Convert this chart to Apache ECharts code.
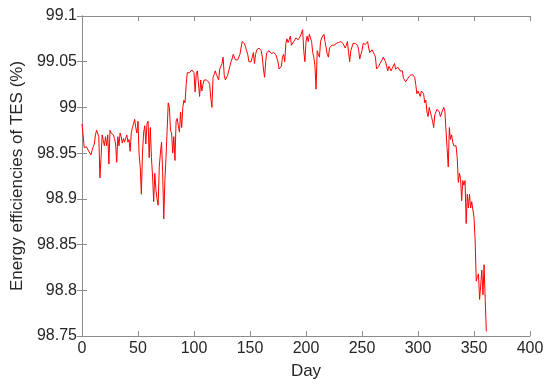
<!DOCTYPE html>
<html>
<head>
<meta charset="utf-8">
<script src="https://cdn.jsdelivr.net/npm/echarts@6/dist/echarts.min.js"></script>
<style>
  html, body { margin: 0; padding: 0; background: #fff; }
  #main { width: 550px; height: 385px; }
</style>
</head>
<body>
<div id="main"></div>
<script>
// day index 0..361, energy efficiency (%)
const efficiency = [
  98.982, 98.970, 98.956, 98.958, 98.957, 98.955, 98.952, 98.950, 98.948, 98.953,
  98.957, 98.960, 98.970, 98.975, 98.974, 98.968, 98.923, 98.945, 98.970, 98.964,
  98.958, 98.968, 98.958, 98.970, 98.938, 98.975, 98.972, 98.973, 98.970, 98.966,
  98.960, 98.940, 98.968, 98.958, 98.972, 98.968, 98.961, 98.966, 98.962, 98.960,
  98.970, 98.962, 98.965, 98.952, 98.972, 98.978, 98.982, 98.987, 98.978, 98.972,
  98.985, 98.948, 98.935, 98.905, 98.950, 98.972, 98.980, 98.960, 98.982, 98.985,
  98.945, 98.978, 98.945, 98.925, 98.897, 98.928, 98.910, 98.900, 98.893, 98.935,
  98.950, 98.962, 98.930, 98.878, 98.920, 98.945, 98.975, 99.005, 99.000, 98.975,
  98.972, 98.950, 98.968, 98.942, 98.985, 98.988, 98.980, 98.973, 98.995, 98.978,
  99.000, 99.008, 99.005, 99.025, 99.038, 99.040, 99.038, 99.040, 99.041, 99.042,
  99.038, 99.017, 99.036, 99.040, 99.042, 99.012, 99.030, 99.018, 99.025, 99.030,
  99.032, 99.030, 99.029, 99.028, 99.025, 99.010, 99.000, 99.033, 99.036, 99.040,
  99.036, 99.038, 99.030, 99.042, 99.045, 99.048, 99.055, 99.035, 99.030, 99.028,
  99.035, 99.040, 99.045, 99.050, 99.053, 99.058, 99.060, 99.052, 99.050, 99.052,
  99.053, 99.058, 99.065, 99.072, 99.070, 99.070, 99.066, 99.062, 99.058, 99.050,
  99.048, 99.050, 99.055, 99.060, 99.048, 99.058, 99.063, 99.064, 99.065, 99.063,
  99.062, 99.055, 99.042, 99.033, 99.050, 99.060, 99.061, 99.062, 99.060, 99.059,
  99.058, 99.060, 99.060, 99.058, 99.057, 99.050, 99.042, 99.043, 99.045, 99.055,
  99.058, 99.050, 99.070, 99.075, 99.071, 99.074, 99.078, 99.068, 99.070, 99.072,
  99.074, 99.076, 99.075, 99.074, 99.075, 99.078, 99.080, 99.085, 99.062, 99.050,
  99.072, 99.078, 99.072, 99.080, 99.076, 99.072, 99.060, 99.055, 99.045, 99.020,
  99.062, 99.058, 99.055, 99.072, 99.076, 99.078, 99.080, 99.072, 99.065, 99.058,
  99.055, 99.065, 99.066, 99.068, 99.067, 99.068, 99.068, 99.070, 99.069, 99.071,
  99.073, 99.072, 99.071, 99.070, 99.070, 99.065, 99.068, 99.072, 99.060, 99.050,
  99.062, 99.066, 99.070, 99.068, 99.070, 99.072, 99.068, 99.063, 99.053, 99.058,
  99.062, 99.070, 99.068, 99.069, 99.068, 99.072, 99.065, 99.060, 99.062, 99.063,
  99.062, 99.058, 99.055, 99.042, 99.044, 99.045, 99.048, 99.050, 99.052, 99.055,
  99.056, 99.050, 99.045, 99.040, 99.045, 99.043, 99.040, 99.043, 99.045, 99.048,
  99.042, 99.044, 99.044, 99.042, 99.040, 99.041, 99.040, 99.032, 99.030, 99.028,
  99.029, 99.032, 99.033, 99.035, 99.036, 99.036, 99.035, 99.033, 99.025, 99.015,
  99.018, 99.020, 99.012, 99.018, 99.020, 99.015, 99.005, 99.008, 98.995, 98.990,
  99.000, 98.995, 98.990, 98.985, 98.978, 98.992, 98.995, 98.998, 99.000, 98.995,
  98.990, 98.992, 98.997, 99.000, 98.996, 98.975, 98.955, 98.935, 98.978, 98.965,
  98.970, 98.962, 98.958, 98.960, 98.958, 98.945, 98.918, 98.928, 98.922, 98.898,
  98.920, 98.915, 98.920, 98.873, 98.905, 98.890, 98.905, 98.890, 98.897, 98.888,
  98.880, 98.855, 98.810, 98.815, 98.818, 98.790, 98.788, 98.822, 98.795, 98.828,
  98.790, 98.755
];
const days = efficiency.map((v, i) => i);

const xTicks = { min: 0, max: 400, interval: 50 };
const yTicks = { min: 98.75, max: 99.1, interval: 0.05 };

const axisColor = "#8c8c8c";
const labelColor = "#262626";
const font = "Liberation Sans, Arial, sans-serif";

const myChart = echarts.init(document.getElementById("main"));

const frameAxis = {
  axisLine: { show: true, lineStyle: { color: axisColor, width: 1 } },
  axisTick: { show: true, inside: true, length: 5, lineStyle: { color: axisColor } },
  splitLine: { show: false }
};

const option = {
  animation: false,
  grid: { left: 82, right: 20, top: 16, bottom: 32, containLabel: false },
  xAxis: [
    {
      type: "value",
      ...xTicks,
      ...frameAxis,
      position: "bottom",
      name: "Day",
      nameLocation: "middle",
      nameGap: 27,
      nameTextStyle: { color: labelColor, fontSize: 17, fontFamily: font },
      axisLabel: { color: labelColor, fontSize: 16, fontFamily: font, margin: 5 }
    },
    {
      type: "value",
      ...xTicks,
      ...frameAxis,
      position: "top",
      axisLabel: { show: false }
    }
  ],
  yAxis: [
    {
      type: "value",
      ...yTicks,
      ...frameAxis,
      position: "left",
      name: "Energy efficiencies of TES (%)",
      nameLocation: "middle",
      nameGap: 51,
      nameTextStyle: { color: labelColor, fontSize: 17, fontFamily: font },
      axisLabel: {
        color: labelColor,
        fontSize: 16,
        fontFamily: font,
        margin: 5,
        formatter: function(v) {
          return String(parseFloat(v.toFixed(2)));
        }
      }
    },
    {
      type: "value",
      ...yTicks,
      ...frameAxis,
      position: "right",
      axisLabel: { show: false }
    }
  ],
  series: [
    {
      type: "line",
      data: days.map((d, i) => [d, efficiency[i]]),
      showSymbol: false,
      symbol: "none",
      lineStyle: { color: "#ff0000", width: 1 },
      xAxisIndex: 0,
      yAxisIndex: 0
    }
  ]
};
myChart.setOption(option);
</script>
</body>
</html>
